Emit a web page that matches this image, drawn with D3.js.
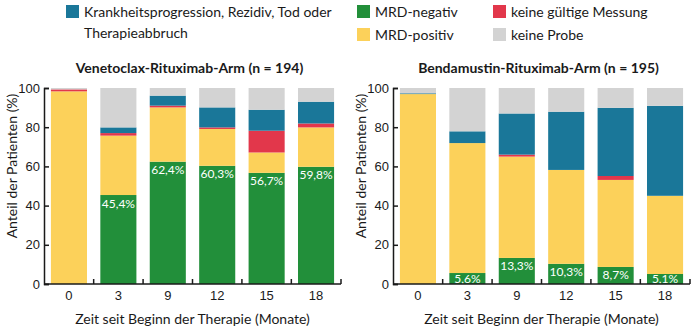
<!DOCTYPE html>
<html>
<head>
<meta charset="utf-8">
<script src="https://cdn.jsdelivr.net/npm/d3@7"></script>
<style>
  body { margin: 0; background: #fff; }
  svg { font-family: Lato, "Open Sans", sans-serif; }
  .axis path, .axis line { stroke: #1a1a1a; stroke-width: 1.5; }
  .axis text { font-size: 13px; fill: #1a1a1a; }
</style>
</head>
<body>
<svg id="chart"></svg>
<script>
const width = 700, height = 333;

// Monate seit Therapiebeginn
const months = ["0", "3", "9", "12", "15", "18"];
const yTicks = [0, 20, 40, 60, 80, 100];

// Kategorien von unten nach oben gestapelt
const categories = ["MRD-negativ", "MRD-positiv", "keine gültige Messung",
  "Krankheitsprogression, Rezidiv, Tod oder Therapieabbruch", "keine Probe"];
const colors = ["#228f3a", "#fcd15a", "#e2374b", "#1a7799", "#d3d3d3"];

// Venetoclax-Rituximab-Arm (%)
const venNegativ     = [0, 45.4, 62.4, 60.3, 56.7, 59.8];
const venPositiv     = [98.3, 30.3, 27.7, 18.8, 10.4, 20.1];
const venUngueltig   = [1.0, 1.3, 0.9, 0.8, 11.1, 2.0];
const venProgression = [0, 2.9, 5.1, 10.2, 10.7, 11.1];
const venKeineProbe  = [0.7, 20.1, 3.9, 9.9, 11.1, 7.0];

// Bendamustin-Rituximab-Arm (%)
const benNegativ     = [0, 5.6, 13.3, 10.3, 8.7, 5.1];
const benPositiv     = [96.9, 66.3, 51.7, 47.9, 44.4, 39.9];
const benUngueltig   = [0, 0, 1.0, 0, 2.0, 0];
const benProgression = [0.4, 6.0, 21.0, 29.7, 34.8, 45.9];
const benKeineProbe  = [2.7, 22.1, 13.0, 12.1, 10.1, 9.1];

const panels = [
  {title: "Venetoclax-Rituximab-Arm (n = 194)", x0: 44,
   series: [venNegativ, venPositiv, venUngueltig, venProgression, venKeineProbe]},
  {title: "Bendamustin-Rituximab-Arm (n = 195)", x0: 393,
   series: [benNegativ, benPositiv, benUngueltig, benProgression, benKeineProbe]},
];

const de = d3.formatLocale({decimal: ",", thousands: ".", grouping: [3], currency: ["", "€"]});
const fmt = de.format(".1f");

const svg = d3.select("#chart").attr("width", width).attr("height", height);

const plotW = 297, yTop = 88, yBottom = 284;

panels.forEach(p => {
  const g = svg.append("g");

  const x = d3.scaleBand()
    .domain(months)
    .range([p.x0, p.x0 + plotW])
    .paddingInner(0.27)
    .paddingOuter(0.14);

  const y = d3.scaleLinear().domain([0, 100]).range([yBottom, yTop]);

  // rows: one object per month with a field per category
  const rows = months.map((m, i) => {
    const r = {month: m};
    categories.forEach((c, k) => r[c] = p.series[k][i]);
    return r;
  });
  const stacked = d3.stack().keys(categories)(rows);

  g.selectAll("g.layer")
    .data(stacked)
    .join("g")
      .attr("class", "layer")
      .attr("fill", (_, k) => colors[k])
    .selectAll("rect")
    .data(d => d)
    .join("rect")
      .attr("x", d => x(d.data.month))
      .attr("width", x.bandwidth())
      .attr("y", d => y(d[1]))
      .attr("height", d => y(d[0]) - y(d[1]));

  // Werte der MRD-negativen Anteile
  g.selectAll("text.value")
    .data(rows.filter(r => r[categories[0]] > 0))
    .join("text")
      .attr("class", "value")
      .attr("x", d => x(d.month) + x.bandwidth() / 2)
      .attr("y", d => Math.min(y(d[categories[0]]) + 12.5, yBottom - 1))
      .attr("text-anchor", "middle")
      .attr("fill", "#fff")
      .attr("font-size", 12)
      .text(d => fmt(d[categories[0]]) + "%");

  // y axis, ticks pointing inward
  g.append("g")
    .attr("class", "axis")
    .attr("transform", `translate(${p.x0},0)`)
    .call(d3.axisLeft(y).tickValues(yTicks).tickSizeInner(-5).tickSizeOuter(-5).tickPadding(4));

  // x axis: labels centred under bars, tick marks between bars
  const xAxis = g.append("g")
    .attr("class", "axis")
    .attr("transform", `translate(0,${yBottom})`)
    .call(d3.axisBottom(x).tickSize(0).tickPadding(7));
  xAxis.select(".domain").attr("d", `M${p.x0},0H${p.x0 + plotW}`);

  const step = x.step();
  const bounds = months.slice(1).map(m => x(m) - step * x.paddingInner() / 2)
    .concat([p.x0 + plotW]);
  xAxis.selectAll("line.sep")
    .data(bounds)
    .join("line")
      .attr("class", "sep")
      .attr("x1", d => d).attr("x2", d => d)
      .attr("y1", 0).attr("y2", -5);

  g.append("text")
    .attr("x", p.x0 + plotW / 2 - 3)
    .attr("y", 73)
    .attr("text-anchor", "middle")
    .attr("font-weight", "bold")
    .attr("font-size", 14)
    .attr("fill", "#1a1a1a")
    .text(p.title);

  g.append("text")
    .attr("x", p.x0 + plotW / 2)
    .attr("y", 324)
    .attr("text-anchor", "middle")
    .attr("font-size", 14)
    .attr("fill", "#1a1a1a")
    .text("Zeit seit Beginn der Therapie (Monate)");

  g.append("text")
    .attr("transform", `translate(${p.x0 - 27},${(yTop + yBottom) / 2 - 20}) rotate(-90)`)
    .attr("text-anchor", "middle")
    .attr("font-size", 14)
    .attr("fill", "#1a1a1a")
    .text("Anteil der Patienten (%)");
});

// Legende
const legendItems = [
  {k: 3, x: 66, y: 5, lines: ["Krankheitsprogression, Rezidiv, Tod oder", "Therapieabbruch"]},
  {k: 0, x: 357, y: 5, lines: ["MRD-negativ"]},
  {k: 2, x: 493, y: 5, lines: ["keine gültige Messung"]},
  {k: 1, x: 357, y: 28, lines: ["MRD-positiv"]},
  {k: 4, x: 493, y: 28, lines: ["keine Probe"]},
];

const legend = svg.append("g").attr("class", "legend");
const item = legend.selectAll("g")
  .data(legendItems)
  .join("g")
    .attr("transform", d => `translate(${d.x},${d.y})`);
item.append("rect")
  .attr("width", 13).attr("height", 13)
  .attr("fill", d => colors[d.k]);
item.append("text")
  .attr("x", 18)
  .attr("font-size", 14)
  .attr("fill", "#1a1a1a")
  .selectAll("tspan")
  .data(d => d.lines)
  .join("tspan")
    .attr("x", 18)
    .attr("y", (_, i) => 12 + i * 21)
    .text(d => d);
</script>
</body>
</html>
